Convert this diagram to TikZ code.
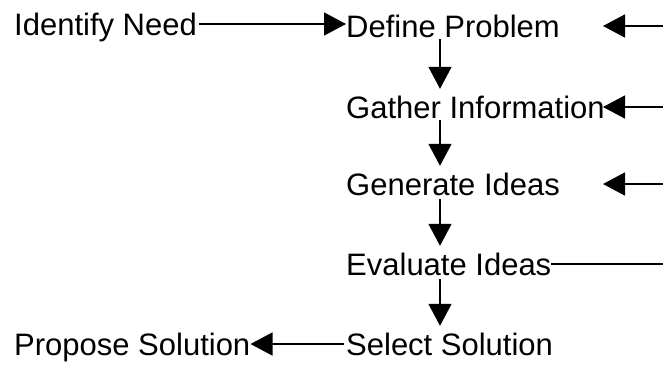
\documentclass[tikz,border=0pt]{standalone}
\usepackage{fontspec}
\setmainfont{Liberation Sans}
\usetikzlibrary{arrows.meta}

\begin{document}
\begin{tikzpicture}[x=1pt,y=-1pt]
\tikzset{etape/.style={anchor=base west, inner sep=0pt, text height=22pt, text depth=0pt, font=\fontsize{31}{31}\selectfont}}
\tikzset{fleche/.style={line width=1.6pt, -{Triangle[length=22pt,width=23pt]}}}
\useasboundingbox (0,0) rectangle (663,365);
\coordinate (col) at (440,0);
\coordinate (bord) at (663,0);
\coordinate (pointe) at (603,0);
\node[etape] (need) at (14,35) {Identify Need};
\node[etape] (define) at (346,37) {Define Problem};
\node[etape] (gather) at (346,118) {Gather Information};
\node[etape] (generate) at (346,195) {Generate Ideas};
\node[etape] (evaluate) at (346,275) {Evaluate Ideas};
\node[etape] (select) at (346,355) {Select Solution};
\node[etape] (propose) at (14,355) {Propose Solution};
\draw[fleche, shorten <=2pt] (need.east) -- (need.east -| define.west);
\draw[fleche, shorten <=2pt, shorten >=7pt] (define.south -| col) -- (gather.north -| col);
\draw[fleche, shorten <=2pt, shorten >=7pt] (gather.south -| col) -- (generate.north -| col);
\draw[fleche, shorten <=4pt, shorten >=7pt] (generate.south -| col) -- (evaluate.north -| col);
\draw[fleche, shorten <=4pt, shorten >=7pt] (evaluate.south -| col) -- (select.north -| col);
\draw[fleche, shorten <=2pt] (select.west) -- (select.west -| propose.east);
\draw[line width=1.6pt] (evaluate.east) -- (evaluate.east -| bord);
\draw[fleche] (define.east -| bord) -- (define.east -| pointe);
\draw[fleche] (gather.east -| bord) -- (gather.east -| pointe);
\draw[fleche] (generate.east -| bord) -- (generate.east -| pointe);
\end{tikzpicture}
\end{document}
